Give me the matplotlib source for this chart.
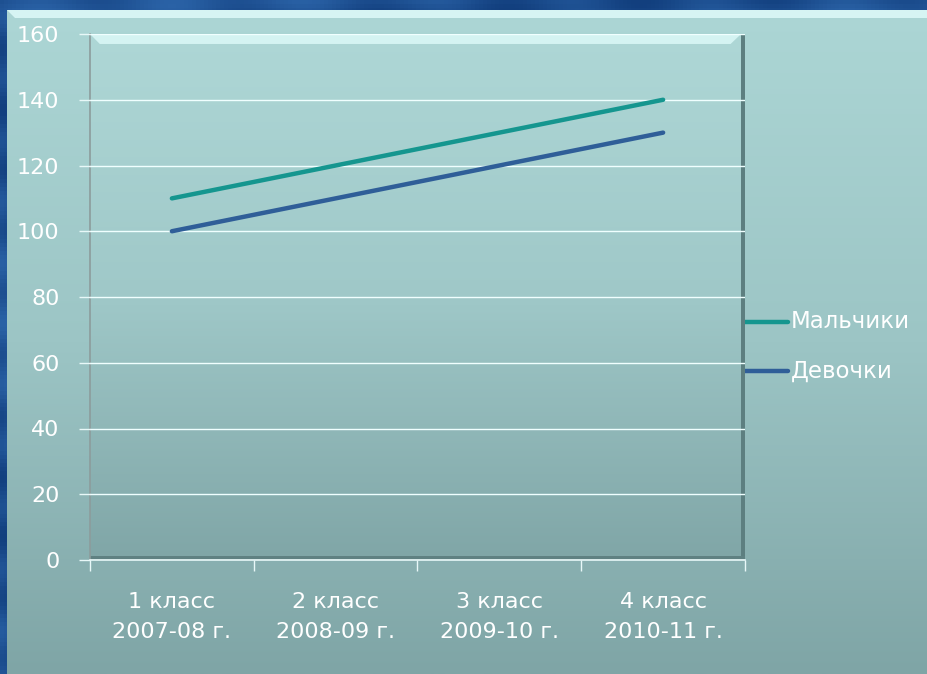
import numpy as np
import matplotlib.pyplot as plt
from matplotlib.patches import Rectangle, Polygon
from matplotlib.colors import LinearSegmentedColormap

# данные диаграммы
categories = ["1 класс\n2007-08 г.", "2 класс\n2008-09 г.",
              "3 класс\n2009-10 г.", "4 класс\n2010-11 г."]
boys = [110, 120, 130, 140]
girls = [100, 110, 120, 130]
series_names = ["Мальчики", "Девочки"]
series_colors = ["#15968f", "#2f5e98"]

plt.rcParams['font.family'] = ['DejaVu Sans']

W, H = 927, 674
fig = plt.figure(figsize=(W / 100, H / 100), dpi=100)
fig.patch.set_facecolor("#1b4c8c")

# тёмно-синяя рамка с фактурой
bg = fig.add_axes([0, 0, 1, 1])
bg.set_xlim(0, W)
bg.set_ylim(H, 0)
bg.axis("off")
yy, xx = np.mgrid[0:H:4, 0:W:4]
tex = 0.5 + 0.25 * np.sin(xx / 37.0 + yy / 23.0) * np.cos(yy / 17.0 - xx / 51.0)
blue = LinearSegmentedColormap.from_list("blue", ["#123f7e", "#2a62a6"])
bg.imshow(tex, cmap=blue, extent=[0, W, H, 0], aspect="auto", zorder=0)

# фон области диаграммы — градиент сверху вниз
area = LinearSegmentedColormap.from_list("area", ["#acd6d5", "#9cc5c5", "#7fa5a6"])
grad = np.linspace(0, 1, 256).reshape(-1, 1)
bg.imshow(grad, cmap=area, extent=[7, W, H, 10], aspect="auto", zorder=1)
bg.add_patch(Polygon([[7, 10], [W, 10], [W, 18], [15, 18]],
                     closed=True, facecolor="#d6f4f3", edgecolor="none", zorder=2))

# область построения
x0, x1, y0, y1 = 90, 745, 34, 560
ax = fig.add_axes([x0 / W, 1 - y1 / H, (x1 - x0) / W, (y1 - y0) / H])
ax.set_facecolor("none")
plot_cmap = LinearSegmentedColormap.from_list("plot", ["#aed7d6", "#9fc8c8", "#80a6a7"])
ax.imshow(grad, cmap=plot_cmap, extent=[0, 1, 0, 1], transform=ax.transAxes,
          aspect="auto", zorder=0)

# объёмные края области построения
ax.add_patch(Polygon([[0, 1], [0.994, 1], [0.978, 0.981], [0.015, 0.981]], closed=True,
                     transform=ax.transAxes, facecolor="#d4f3f2", edgecolor="none", zorder=1))
ax.add_patch(Rectangle((0.994, 0), 0.006, 1, transform=ax.transAxes,
                       facecolor="#5d7f80", edgecolor="none", zorder=1))
ax.add_patch(Rectangle((0, 0), 1, 0.008, transform=ax.transAxes,
                       facecolor="#5f8182", edgecolor="none", zorder=1))

x = np.arange(len(categories))
ax.plot(x, boys, color=series_colors[0], lw=3.2, solid_capstyle="round", zorder=4)
ax.plot(x, girls, color=series_colors[1], lw=3.2, solid_capstyle="round", zorder=4)

ax.set_xlim(-0.5, len(categories) - 0.5)
ax.set_ylim(0, 160)
ax.set_yticks(np.arange(0, 161, 20))
ax.grid(axis="y", color="#f0ffff", lw=1.0, zorder=2)
ax.set_axisbelow(False)

ax.set_xticks(x)
ax.set_xticklabels(categories, color="white", fontsize=16, linespacing=1.65)
ax.set_xticks(np.arange(-0.5, len(categories)), minor=True)
ax.tick_params(axis="x", which="major", length=0, pad=23)
ax.tick_params(axis="x", which="minor", length=8, color="#e8f8f8", width=1)
ax.tick_params(axis="y", length=8, color="#e8f8f8", width=1, labelcolor="white",
               labelsize=16, pad=14)

for s in ["top", "right"]:
    ax.spines[s].set_visible(False)
ax.spines["left"].set_color("#8c9c9c")
ax.spines["left"].set_linewidth(1.2)
ax.spines["bottom"].set_color("#e8f8f8")
ax.spines["bottom"].set_linewidth(1.2)

# легенда справа
for i, (name, col) in enumerate(zip(series_names, series_colors)):
    ly = 322 + i * 49
    bg.plot([735, 788], [ly, ly], color=col, lw=3.2, solid_capstyle="round", zorder=5)
    bg.text(791, ly, name, color="white", fontsize=16.5, va="center", ha="left", zorder=5)

fig.savefig("out.png", dpi=100, facecolor=fig.get_facecolor())
